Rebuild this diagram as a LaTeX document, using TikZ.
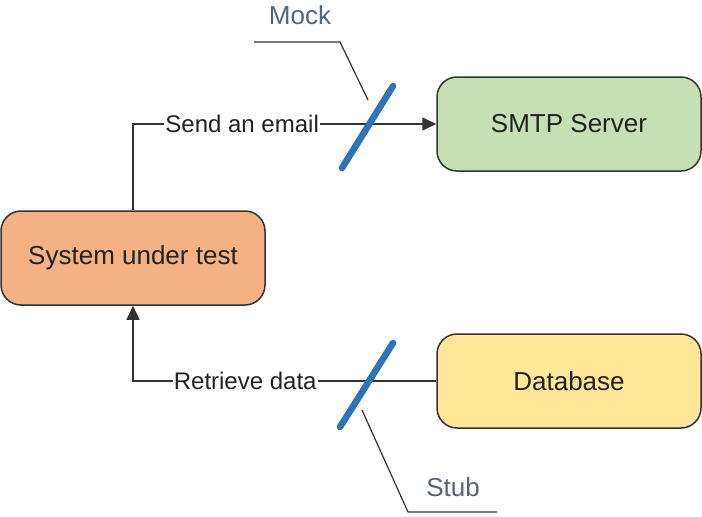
\documentclass[tikz,border=0pt]{standalone}
\usepackage{fontspec}
\setmainfont{Liberation Sans}
\usetikzlibrary{positioning,arrows.meta}
\definecolor{sutfill}{HTML}{F4B183}
\definecolor{smtpfill}{HTML}{C5E0B4}
\definecolor{dbfill}{HTML}{FFE699}
\definecolor{boxline}{HTML}{333333}
\definecolor{textdark}{HTML}{222222}
\definecolor{slashblue}{HTML}{2E75B6}
\definecolor{calloutgrey}{HTML}{56647A}
\tikzset{
  box/.style={draw=boxline, line width=0.75pt, rounded corners=10pt,
    minimum width=132pt, minimum height=47pt, text=textdark,
    font=\fontsize{13}{15}\selectfont},
  flow/.style={draw=boxline, line width=0.75pt},
  lbl/.style={fill=white, inner sep=0.5pt, text=textdark,
    font=\fontsize{12}{14}\selectfont},
  slash/.style={draw=slashblue, line width=3.3pt, line cap=round},
  callout/.style={draw=boxline, line width=0.6pt},
  calloutlbl/.style={text=calloutgrey, font=\fontsize{13}{15}\selectfont},
}

\begin{document}
\begin{tikzpicture}[x=0.5pt,y=-0.5pt]
        % Moldura
        \useasboundingbox (0,0) rectangle (702,516);

        % Caixas
        \node[box, fill=sutfill] (sut) at (133,258) {System under test};
        \node[box, fill=smtpfill] (smtp) at (569,124) {SMTP Server};
        \node[box, fill=dbfill] (db) at (569,381) {Database};

        % Ligacoes
        \draw[flow, -{Triangle[length=7pt,width=6.5pt]}] (sut.north) |- node[lbl, pos=0.68] {Send an email} (smtp.west);
        \draw[flow, -{Triangle[length=7pt,width=6.5pt]}] (db.west) -| node[lbl, pos=0.315] {Retrieve data} (sut.south);

        % Mock
        \coordinate (mockA) at (342,168);
        \coordinate (mockB) at (393,86);
        \draw[slash] (mockA) -- (mockB);
        \node[calloutlbl] (mock) at (300,15) {Mock};
        \coordinate (mockL) at (254,42);
        \coordinate (mockK) at (340,42);
        \coordinate (mockT) at (368,100);
        \draw[callout] (mockL) -- (mockK) -- (mockT);

        % Stub
        \coordinate (stubA) at (340,427);
        \coordinate (stubB) at (393,343);
        \draw[slash] (stubA) -- (stubB);
        \node[calloutlbl] (stub) at (453,487) {Stub};
        \coordinate (stubT) at (362,410);
        \coordinate (stubK) at (408,512);
        \coordinate (stubR) at (497,512);
        \draw[callout] (stubT) -- (stubK) -- (stubR);

\end{tikzpicture}
\end{document}
